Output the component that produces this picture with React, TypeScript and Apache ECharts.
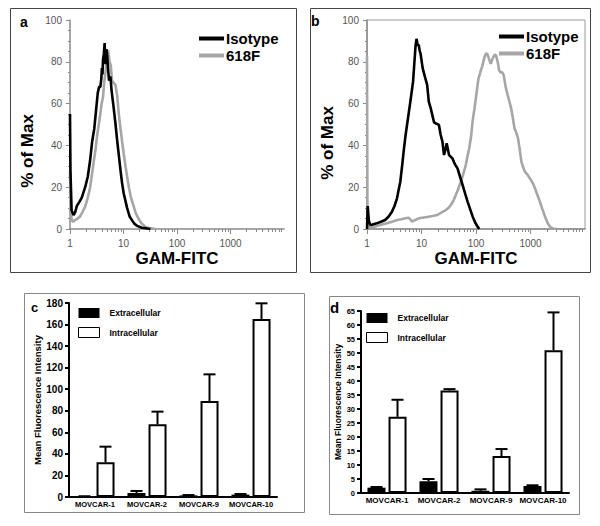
import React, { useEffect, useRef } from "react";
import * as echarts from "echarts";

// ---------- Flow cytometry histograms (x = GAM-FITC, y = % of Max) ----------
const isotypeA: [number, number][] = [
  [1, 55], [1.02, 28], [1.07, 9], [1.16, 6.7], [1.25, 8], [1.34, 11], [1.5, 13], [1.66, 15],
  [1.92, 20], [2.15, 25], [2.38, 33], [2.6, 42], [2.84, 48], [3.05, 56], [3.3, 65], [3.5, 68],
  [3.7, 68], [3.85, 72], [3.95, 77], [4.05, 74], [4.14, 81], [4.3, 84], [4.44, 89], [4.55, 80],
  [4.64, 79], [4.8, 86], [4.92, 84], [5.1, 78], [5.37, 71], [5.69, 73], [6.0, 66], [6.55, 58],
  [7.1, 50], [7.6, 42.5], [8.2, 35], [8.8, 28], [9.4, 22], [10.1, 17], [11.7, 10], [13, 6],
  [14.6, 4], [16, 2.5], [18, 1.5], [22, 0.6], [28, 0.2], [32, 0],
];
const f618A: [number, number][] = [
  [1, 28], [1.03, 10], [1.08, 4], [1.15, 3.5], [1.24, 4.3], [1.4, 5], [1.54, 6], [1.7, 8],
  [1.92, 10.7], [2.15, 15], [2.38, 20], [2.6, 27], [2.75, 31.5], [3.0, 38], [3.19, 44], [3.45, 50],
  [3.68, 55], [3.9, 60], [4.14, 63], [4.35, 70], [4.58, 74.5], [4.85, 80], [5.13, 85.6], [5.3, 83],
  [5.5, 80], [5.8, 78], [6.1, 71], [6.5, 70], [7.06, 69], [7.6, 64], [8.17, 55], [8.8, 48],
  [9.4, 42], [10.1, 36], [10.9, 30], [11.7, 25], [12.6, 20], [13.8, 15], [15.2, 11.5], [17, 7.5],
  [19.5, 4.5], [22, 2.5], [26, 1], [32, 0.3], [40, 0],
];
const isotypeB: [number, number][] = [
  [1, 0], [1.03, 11], [1.08, 4], [1.15, 2], [1.22, 2], [1.51, 2.7], [1.8, 3.5], [2.15, 4.3],
  [2.5, 6], [2.87, 8.3], [3.2, 11], [3.55, 14.7], [4.08, 22.6], [4.4, 30], [4.7, 37], [5.05, 44],
  [5.44, 50], [6.25, 61], [7.0, 70.5], [7.5, 81.7], [7.8, 88], [8.1, 91], [8.5, 88], [8.9, 88],
  [9.3, 85], [9.6, 84], [10.5, 77], [11.5, 73], [12.7, 69], [13.6, 61], [14.7, 58], [15.8, 54.5],
  [17, 51], [18.1, 50.6], [20.9, 49.8], [22.5, 45], [24.2, 41.8], [25.9, 35.4], [27.5, 38], [29, 41],
  [32, 35.4], [36.9, 33.8], [41, 31], [45.8, 29], [51, 25], [56.9, 21], [63, 17], [70.3, 13],
  [78, 9.5], [87, 5.9], [97, 3], [107.5, 1], [115, 0],
];
const f618B: [number, number][] = [
  [1, 83], [1.02, 5], [1.1, 1], [1.31, 1], [1.8, 2], [2.3, 2.7], [2.9, 3.5], [3.55, 4.3],
  [4.3, 4.7], [5.05, 5.1], [5.8, 5.4], [6.3, 4.5], [6.7, 3.5], [7.5, 4.2], [8.9, 5.1], [11, 5.5],
  [13.6, 5.9], [16, 6.2], [19.5, 6.7], [23, 7.8], [27.8, 9], [31, 10], [34.5, 11.5], [38.5, 13.5],
  [42.6, 16.3], [47, 19], [52.6, 22.6], [58, 26], [65, 30.6], [70, 35], [75, 38.6], [81, 44],
  [87, 52], [93, 57], [100, 63], [107, 69], [111, 72], [117, 74], [123, 76], [131, 78],
  [141, 81.7], [152, 84], [163, 83.6], [175, 81], [187, 79], [198, 81], [210, 82.5], [222, 83.5],
  [233, 83], [250, 80], [265, 76], [279, 75], [300, 75], [322, 73.7], [350, 68], [382, 64],
  [410, 61], [442, 57.7], [475, 53], [510, 48], [550, 46], [590, 43.4], [635, 38], [683, 32],
  [735, 29.5], [790, 27.4], [880, 26], [985, 24], [1100, 22], [1210, 19.5], [1350, 16], [1490, 13],
  [1650, 9.5], [1850, 5.9], [2050, 3], [2290, 1], [2600, 0.2], [3000, 0],
];
const logMajorTicks = [1, 10, 100, 1000];
const logMinorTicks: number[] = [];
for (const d of [1, 10, 100, 1000]) for (let m = 2; m <= 9; m++) logMinorTicks.push(m * d);

// ---------- Bar charts (Mean Fluorescence Intensity) ----------
const cellLines = ["MOVCAR-1", "MOVCAR-2", "MOVCAR-9", "MOVCAR-10"];
const extraC = [0.5, 3.7, 1.5, 2.2];
const extraCErr = [0.2, 1.9, 0.3, 0.6];
const intraC = [32.2, 67.4, 89, 165.2];
const intraCErr = [14.5, 11.8, 24.8, 14.5];
const extraD = [1.9, 4.2, 0.8, 2.5];
const extraDErr = [0.25, 0.8, 0.5, 0.25];
const intraD = [27.2, 36.6, 13.2, 51];
const intraDErr = [6.1, 0.5, 2.5, 13.5];

const FONT = "'Liberation Sans', Arial, Helvetica, sans-serif";
const GRAY_AXIS = "#8a8a8a";
const GRAY_LINE = "#a6a6a6";

function errorSeries(name: string, vals: number[], errs: number[], offset: number, xi: number, yi: number) {
  return {
    type: "custom",
    name,
    xAxisIndex: xi,
    yAxisIndex: yi,
    silent: true,
    z: 5,
    encode: { x: 0, y: 1 },
    data: vals.map((v, i) => [i, v, errs[i]]),
    renderItem: (_params: any, api: any) => {
      const i = api.value(0);
      const v = api.value(1);
      const e = api.value(2);
      const p0 = api.coord([i, v]);
      const p1 = api.coord([i, v + e]);
      const x = p0[0] + offset;
      return {
        type: "group",
        children: [
          { type: "line", shape: { x1: x, y1: p0[1], x2: x, y2: p1[1] }, style: { stroke: "#000", lineWidth: 2 } },
          { type: "line", shape: { x1: x - 6, y1: p1[1], x2: x + 6, y2: p1[1] }, style: { stroke: "#000", lineWidth: 2 } },
        ],
      };
    },
  };
}

function logAxes(gridIndex: number) {
  return [
    {
      type: "log",
      gridIndex,
      logBase: 10,
      min: 1,
      max: 10000,
      position: "bottom",
      name: "GAM-FITC",
      nameLocation: "middle",
      nameGap: 21,
      nameTextStyle: { fontSize: 17, fontWeight: "bold", color: "#000", fontFamily: FONT },
      axisLine: { show: true, lineStyle: { color: GRAY_AXIS, width: 1.5 } },
      axisTick: { show: true, length: 5, customValues: logMajorTicks, lineStyle: { color: GRAY_AXIS } },
      axisLabel: {
        customValues: logMajorTicks,
        color: "#555",
        fontSize: 10,
        margin: 9,
        fontFamily: FONT,
        formatter: (v: number) => String(Math.round(v)),
      },
      splitLine: { show: false },
    },
    {
      type: "log",
      gridIndex,
      logBase: 10,
      min: 1,
      max: 10000,
      position: "bottom",
      axisLine: { show: false },
      axisTick: { show: true, length: 3, customValues: logMinorTicks, lineStyle: { color: GRAY_AXIS } },
      axisLabel: { show: false },
      splitLine: { show: false },
    },
  ];
}

function pctAxis(gridIndex: number) {
  return {
    type: "value",
    gridIndex,
    min: 0,
    max: 100,
    interval: 20,
    axisLine: { show: true, lineStyle: { color: GRAY_AXIS, width: 1.5 } },
    axisTick: { show: true, length: 4, lineStyle: { color: GRAY_AXIS } },
    minorTick: { show: true, splitNumber: 4, length: 2, lineStyle: { color: GRAY_AXIS } },
    axisLabel: { color: "#555", fontSize: 10, margin: 8, fontFamily: FONT },
    splitLine: { show: false },
  };
}

function catAxis(gridIndex: number, fontSize: number) {
  return {
    type: "category",
    gridIndex,
    data: cellLines,
    axisLine: { show: true, lineStyle: { color: "#000", width: 2 } },
    axisTick: { show: false },
    axisLabel: { color: "#000", fontSize, fontWeight: "bold", margin: 3, fontFamily: FONT, interval: 0 },
  };
}

function mfiAxis(gridIndex: number, max: number, interval: number, fontSize: number, nameSize: number, nameGap: number) {
  return {
    type: "value",
    gridIndex,
    min: 0,
    max,
    interval,
    name: "Mean Fluorescence Intensity",
    nameLocation: "middle",
    nameGap,
    nameTextStyle: { fontSize: nameSize, fontWeight: "bold", color: "#000", fontFamily: FONT },
    axisLine: { show: true, lineStyle: { color: "#000", width: 2 } },
    axisTick: { show: true, length: 4, lineStyle: { color: "#000", width: 2 } },
    axisLabel: { color: "#000", fontSize, fontWeight: "bold", margin: 6, fontFamily: FONT },
    splitLine: { show: false },
  };
}

function lineSeries(name: string, data: [number, number][], color: string, xi: number, yi: number) {
  return {
    type: "line",
    name,
    xAxisIndex: xi,
    yAxisIndex: yi,
    data,
    showSymbol: false,
    symbol: "none",
    lineStyle: { color, width: 2.6 },
    itemStyle: { color },
    z: 3,
  };
}

function barSeries(name: string, vals: number[], xi: number, yi: number, white: boolean) {
  return {
    type: "bar",
    name,
    xAxisIndex: xi,
    yAxisIndex: yi,
    data: vals,
    barWidth: 18,
    barGap: "17%",
    itemStyle: white
      ? { color: "#fff", borderColor: "#000", borderWidth: 2 }
      : { color: "#000", borderColor: "#000", borderWidth: 0 },
  };
}

function histLegend(left: number, top: number) {
  return {
    left,
    top,
    orient: "vertical",
    itemWidth: 25,
    itemHeight: 4,
    itemGap: 2,
    padding: 0,
    selectedMode: false,
    textStyle: { fontSize: 15, fontWeight: "bold", color: "#000", fontFamily: FONT, padding: [0, 0, 0, -3] },
    data: [
      { name: "Isotype", icon: "rect", itemStyle: { color: "#000" } },
      { name: "618F", icon: "rect", itemStyle: { color: GRAY_LINE } },
    ],
  };
}

function barLegend(left: number, top: number) {
  return {
    left,
    top,
    orient: "vertical",
    itemWidth: 21,
    itemHeight: 10,
    itemGap: 9,
    padding: 0,
    selectedMode: false,
    textStyle: { fontSize: 8.5, fontWeight: "bold", color: "#000", fontFamily: FONT, padding: [0, 0, 0, 5] },
    data: [
      { name: "Extracellular", icon: "rect", itemStyle: { color: "#000", borderWidth: 0 } },
      { name: "Intracellular", icon: "rect", itemStyle: { color: "#fff", borderColor: "#000", borderWidth: 1 } },
    ],
  };
}

function panelText(text: string, x: number, y: number, size: number) {
  return {
    type: "text",
    x,
    y,
    style: { text, font: `bold ${size}px ${FONT}`, fill: "#000" },
  };
}

function boxRect(x: number, y: number, w: number, h: number, color: string) {
  return {
    type: "rect",
    shape: { x: x + 0.5, y: y + 0.5, width: w, height: h },
    style: { fill: "none", stroke: color, lineWidth: 1 },
    silent: true,
  };
}

function rotatedTitle(text: string, x: number, y: number) {
  return {
    type: "text",
    x,
    y,
    rotation: Math.PI / 2,
    style: {
      text,
      font: `bold 17px ${FONT}`,
      fill: "#000",
      align: "center",
      verticalAlign: "middle",
      textAlign: "center",
      textVerticalAlign: "middle",
    },
  };
}

export default function App() {
  const ref = useRef<HTMLDivElement>(null);
  useEffect(() => {
    document.body.style.margin = "0";
    if (!ref.current) return;
    const chart = echarts.init(ref.current, undefined, { renderer: "svg" });
    const option: any = {
      animation: false,
      backgroundColor: "#fff",
      textStyle: { fontFamily: FONT },
      grid: [
        { left: 70, top: 20, width: 214, height: 209 },
        { left: 367, top: 20, width: 218, height: 209, show: true, borderColor: "#9a9a9a", borderWidth: 1 },
        { left: 69, top: 303, width: 208, height: 194 },
        { left: 361, top: 311, width: 208, height: 182 },
      ],
      xAxis: [...logAxes(0), ...logAxes(1), catAxis(2, 7.5), catAxis(3, 8)],
      yAxis: [
        pctAxis(0),
        pctAxis(1),
        mfiAxis(2, 180, 20, 10, 9.5, 21),
        mfiAxis(3, 65, 5, 7.5, 8.5, 19),
      ],
      legend: [histLegend(199, 31), histLegend(499, 29), barLegend(78, 308), barLegend(366, 313)],
      series: [
        lineSeries("618F", f618A, GRAY_LINE, 0, 0),
        lineSeries("Isotype", isotypeA, "#000", 0, 0),
        lineSeries("618F", f618B, GRAY_LINE, 2, 1),
        lineSeries("Isotype", isotypeB, "#000", 2, 1),
        barSeries("Extracellular", extraC, 4, 2, false),
        barSeries("Intracellular", intraC, 4, 2, true),
        barSeries("Extracellular", extraD, 5, 3, false),
        barSeries("Intracellular", intraD, 5, 3, true),
        errorSeries("Extracellular error", extraC, extraCErr, -10.5, 4, 2),
        errorSeries("Intracellular error", intraC, intraCErr, 10.5, 4, 2),
        errorSeries("Extracellular error", extraD, extraDErr, -10.5, 5, 3),
        errorSeries("Intracellular error", intraD, intraDErr, 10.5, 5, 3),
      ],
      graphic: [
        boxRect(10, 8, 286, 264, "#444"),
        boxRect(310, 8, 280, 264, "#444"),
        boxRect(24, 293, 280, 219, "#888"),
        boxRect(329, 296, 250, 218, "#888"),
        panelText("a", 20, 15, 14),
        panelText("b", 311, 14, 14),
        panelText("c", 31, 301, 13),
        panelText("d", 330, 300, 15),
        rotatedTitle("% of Max", 27, 151),
        rotatedTitle("% of Max", 327, 143),
      ],
    };
    chart.setOption(option);
    return () => chart.dispose();
  }, []);
  return <div ref={ref} style={{ width: 600, height: 526 }} />;
}
